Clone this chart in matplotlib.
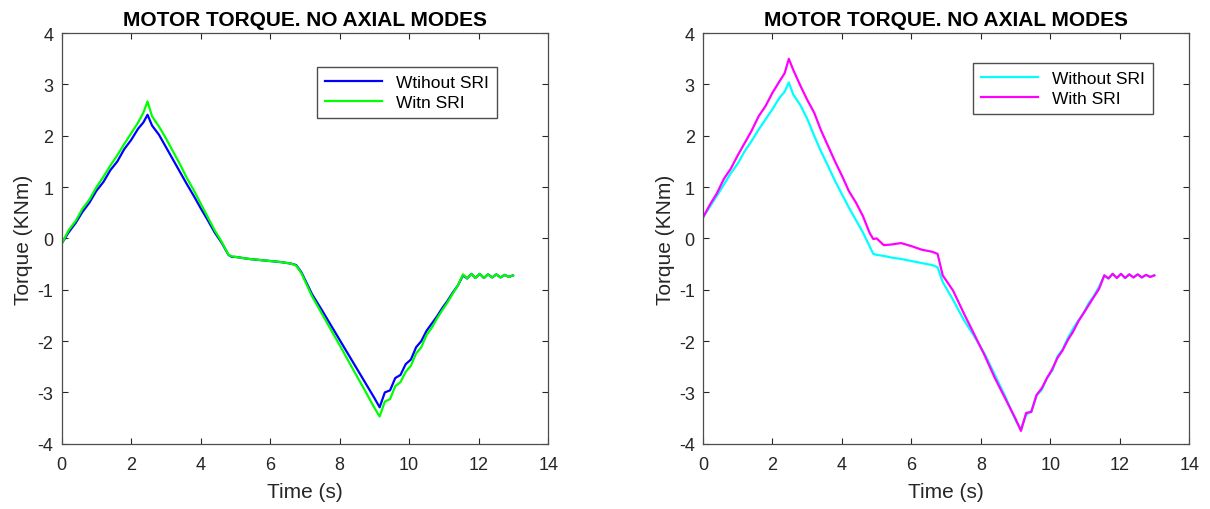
import matplotlib
matplotlib.use("Agg")
import matplotlib.pyplot as plt


# ==============================
# DATA
# ==============================

time_s = [0, 0.2, 0.4, 0.6, 0.8, 1.0, 1.2, 1.4, 1.6, 1.8, 2.0, 2.2,
          2.35, 2.47,
          2.6, 2.8, 3.0, 3.2, 3.4, 3.6, 3.8, 4.0, 4.2, 4.4, 4.6, 4.8,
          4.9, 5.0, 5.2, 5.4, 5.7, 6.0, 6.3, 6.6, 6.75, 6.9,
          7.2, 7.5, 7.8, 8.1, 8.4, 8.7, 9.0,
          9.15,
          9.3, 9.45, 9.6, 9.75, 9.9, 10.05, 10.2, 10.35, 10.5, 10.65, 10.8,
          10.95, 11.1, 11.25, 11.4, 11.55,
          11.67, 11.79, 11.91, 12.03, 12.15, 12.27, 12.39, 12.51, 12.63,
          12.75, 12.87, 12.99]

tail = [-0.78, -0.69, -0.77, -0.69, -0.77, -0.70, -0.76, -0.70, -0.76,
        -0.71, -0.75, -0.72]

# left panel
left_without = [-0.10, 0.12, 0.30, 0.52, 0.70, 0.93, 1.10, 1.33, 1.50, 1.74, 1.92, 2.14,
                2.26, 2.41,
                2.20, 2.02, 1.78, 1.54, 1.30, 1.06, 0.83, 0.59, 0.36, 0.12, -0.08, -0.32,
                -0.36, -0.36, -0.38, -0.40, -0.42, -0.44, -0.46, -0.49, -0.52, -0.66,
                -1.08, -1.41, -1.75, -2.09, -2.43, -2.77, -3.11,
                -3.29,
                -3.00, -2.96, -2.72, -2.66, -2.45, -2.36, -2.12, -2.00, -1.80, -1.66, -1.52,
                -1.36, -1.22, -1.06, -0.92, -0.72] + tail

left_with = [-0.10, 0.16, 0.34, 0.58, 0.76, 1.00, 1.20, 1.42, 1.62, 1.84, 2.05, 2.26,
             2.45, 2.67,
             2.38, 2.18, 1.95, 1.70, 1.45, 1.18, 0.94, 0.68, 0.42, 0.16, -0.06, -0.32,
             -0.35, -0.36, -0.38, -0.40, -0.42, -0.44, -0.46, -0.49, -0.53, -0.68,
             -1.12, -1.48, -1.84, -2.20, -2.57, -2.93, -3.30,
             -3.47,
             -3.18, -3.13, -2.88, -2.80, -2.60, -2.48, -2.24, -2.12, -1.88, -1.74, -1.56,
             -1.40, -1.25, -1.08, -0.92, -0.70] + tail

# right panel
right_without = [0.41, 0.62, 0.83, 1.05, 1.27, 1.46, 1.70, 1.90, 2.12, 2.32, 2.52, 2.74,
                 2.86, 3.04,
                 2.80, 2.60, 2.33, 2.00, 1.69, 1.41, 1.12, 0.86, 0.60, 0.36, 0.12, -0.16,
                 -0.30, -0.32, -0.34, -0.37, -0.40, -0.44, -0.48, -0.52, -0.56, -0.85,
                 -1.20, -1.58, -1.90, -2.24, -2.66, -3.08, -3.55,
                 -3.72,
                 -3.44, -3.36, -3.06, -2.95, -2.72, -2.58, -2.30, -2.16, -1.94, -1.76, -1.60,
                 -1.46, -1.26, -1.12, -0.94, -0.72] + tail

right_with = [0.41, 0.66, 0.88, 1.16, 1.36, 1.62, 1.86, 2.10, 2.38, 2.58, 2.84, 3.06,
              3.22, 3.50,
              3.28, 2.98, 2.70, 2.45, 2.10, 1.80, 1.50, 1.22, 0.92, 0.70, 0.44, 0.10,
              -0.01, 0.00, -0.13, -0.12, -0.09, -0.15, -0.22, -0.26, -0.30, -0.72,
              -1.02, -1.45, -1.86, -2.27, -2.72, -3.12, -3.52,
              -3.75,
              -3.40, -3.38, -3.05, -2.92, -2.72, -2.55, -2.33, -2.18, -1.98, -1.82, -1.62,
              -1.46, -1.30, -1.14, -0.98, -0.72] + tail

x_ticks = [0, 2, 4, 6, 8, 10, 12, 14]
y_ticks = [-4, -3, -2, -1, 0, 1, 2, 3, 4]

TITLE = "MOTOR TORQUE. NO AXIAL MODES"


# ==============================
# STYLE
# ==============================

plt.rcParams["font.family"] = ["Liberation Sans", "DejaVu Sans"]
plt.rcParams["axes.unicode_minus"] = False
AX_COLOR = "#262626"

fig = plt.figure(figsize=(12.1, 5.1), dpi=100)
ax_left = fig.add_axes([0.051, 0.128, 0.402, 0.805])
ax_right = fig.add_axes([0.581, 0.128, 0.402, 0.805])


def style_axes(ax):
    ax.set_xlim(0, 14)
    ax.set_ylim(-4, 4)
    ax.set_xticks(x_ticks)
    ax.set_yticks(y_ticks)
    ax.tick_params(direction="in", length=4, width=0.8, colors=AX_COLOR,
                   labelsize=13, top=True, right=True)
    ax.tick_params(axis="x", pad=9)
    ax.tick_params(axis="y", pad=6)
    for sp in ax.spines.values():
        sp.set_color("#4d4d4d")
        sp.set_linewidth(0.9)
    ax.set_title(TITLE, fontsize=15, fontweight="bold", color="black", pad=6)
    ax.set_xlabel("Time (s)", fontsize=15, color=AX_COLOR, labelpad=6)
    ax.set_ylabel("Torque (KNm)", fontsize=15, color=AX_COLOR, labelpad=3)


def add_legend(ax, anchor):
    ax.legend(loc="upper right", bbox_to_anchor=anchor, borderaxespad=0,
              fontsize=12.5, fancybox=False, edgecolor="#4d4d4d", framealpha=1,
              handlelength=3.3, borderpad=0.45, labelspacing=0.3)


# ==============================
# LEFT PANEL
# ==============================

ax_left.plot(time_s, left_without, color=(0, 0, 1), lw=1.6, label="Wtihout SRI")
ax_left.plot(time_s, left_with, color=(0, 1, 0), lw=1.6, label="Witn SRI")
style_axes(ax_left)
add_legend(ax_left, (0.895, 0.918))

# ==============================
# RIGHT PANEL
# ==============================

ax_right.plot(time_s, right_without, color=(0, 1, 1), lw=1.6, label="Without SRI")
ax_right.plot(time_s, right_with, color=(1, 0, 1), lw=1.6, label="With SRI")
style_axes(ax_right)
add_legend(ax_right, (0.925, 0.928))

fig.savefig("out.png", dpi=100)
